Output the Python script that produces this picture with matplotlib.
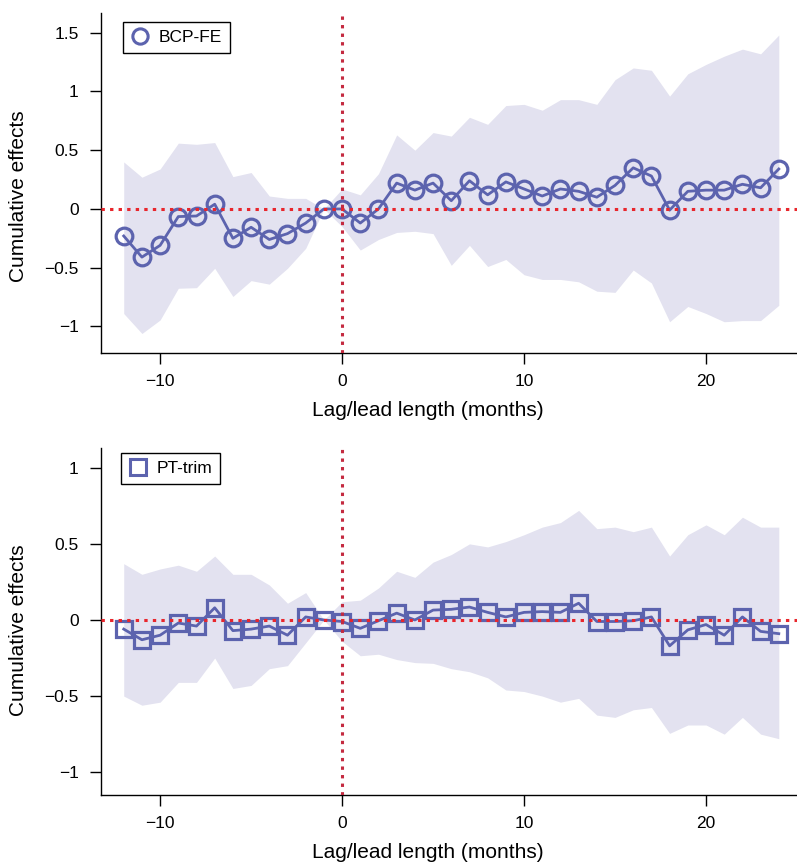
import matplotlib
matplotlib.use('Agg')
import matplotlib.pyplot as plt
from matplotlib.ticker import FuncFormatter
import numpy as np

plt.rcParams['font.family'] = ['Liberation Sans', 'DejaVu Sans']

lags = np.arange(-12, 25)

# top panel: BCP-FE
bcp_effect = [-0.23, -0.41, -0.31, -0.065, -0.06, 0.04, -0.25, -0.156, -0.26, -0.21, -0.12, 0.0,
              0.0, -0.12, 0.0, 0.22, 0.16, 0.22, 0.07, 0.24, 0.12, 0.23, 0.17, 0.11, 0.17, 0.15,
              0.10, 0.20, 0.35, 0.28, -0.01, 0.15, 0.16, 0.16, 0.21, 0.18, 0.34]
bcp_upper = [0.40, 0.27, 0.34, 0.56, 0.55, 0.565, 0.275, 0.31, 0.11, 0.09, 0.09, 0.0,
             0.17, 0.12, 0.30, 0.63, 0.50, 0.65, 0.62, 0.78, 0.72, 0.88, 0.89, 0.84, 0.93, 0.93,
             0.89, 1.10, 1.20, 1.18, 0.96, 1.15, 1.23, 1.30, 1.36, 1.32, 1.48]
bcp_lower = [-0.89, -1.06, -0.945, -0.675, -0.67, -0.505, -0.745, -0.61, -0.64, -0.505, -0.335, 0.0,
             -0.15, -0.35, -0.26, -0.20, -0.19, -0.21, -0.48, -0.31, -0.49, -0.43, -0.56, -0.60, -0.60,
             -0.62, -0.70, -0.71, -0.52, -0.63, -0.96, -0.83, -0.89, -0.96, -0.95, -0.95, -0.82]

# bottom panel: PT-trim
pt_effect = [-0.06, -0.13, -0.10, -0.02, -0.04, 0.08, -0.07, -0.06, -0.04, -0.10, 0.02, 0.0,
             -0.01, -0.055, -0.005, 0.045, 0.0, 0.065, 0.07, 0.085, 0.05, 0.02, 0.05, 0.055, 0.05,
             0.11, -0.01, -0.01, -0.005, 0.02, -0.17, -0.065, -0.03, -0.10, 0.02, -0.075, -0.09]
pt_upper = [0.37, 0.30, 0.335, 0.36, 0.32, 0.42, 0.30, 0.30, 0.23, 0.11, 0.18, 0.0,
            0.12, 0.13, 0.21, 0.32, 0.28, 0.38, 0.43, 0.50, 0.48, 0.515, 0.56, 0.61, 0.64,
            0.72, 0.60, 0.61, 0.58, 0.61, 0.42, 0.56, 0.625, 0.56, 0.675, 0.61, 0.61]
pt_lower = [-0.50, -0.56, -0.54, -0.41, -0.41, -0.25, -0.45, -0.43, -0.32, -0.30, -0.15, 0.0,
            -0.14, -0.235, -0.225, -0.26, -0.28, -0.285, -0.32, -0.34, -0.38, -0.46, -0.47, -0.50,
            -0.54, -0.515, -0.625, -0.64, -0.59, -0.575, -0.745, -0.69, -0.69, -0.75, -0.64, -0.75, -0.78]

line_color = '#5c63ae'
band_color = '#e3e2f0'


def fmt(v, pos):
    return f'{v:g}'.replace('-', '\u2212')


def draw_panel(ax, effect, lower, upper, marker, label, ylim, yticks, legend_anchor, ylab_y):
    ax.fill_between(lags, lower, upper, color=band_color, lw=0, zorder=1)
    ax.plot(lags, effect, color=line_color, lw=2.0, marker=marker, markersize=12,
            markerfacecolor='none', markeredgewidth=2.3, zorder=3)
    ax.axhline(0, color='#e8262c', lw=2.2, linestyle=(0, (1.1, 1.7)), zorder=4)
    ax.axvline(0, color='#c42a40', lw=2.2, linestyle=(0, (1.1, 1.7)), zorder=4)
    h = plt.Line2D([], [], color=line_color, marker=marker, linestyle='none', markersize=11,
                   markerfacecolor='none', markeredgewidth=2.2)
    leg = ax.legend([h], [label], loc='upper left', bbox_to_anchor=legend_anchor,
                    borderaxespad=0, fancybox=False, edgecolor='black', fontsize=12.5,
                    handlelength=1.0, handletextpad=0.6, borderpad=0.45, framealpha=1)
    leg.get_frame().set_linewidth(1.0)
    ax.set_xlim(-13.25, 25)
    ax.set_ylim(*ylim)
    ax.set_yticks(yticks)
    ax.set_xticks([-10, 0, 10, 20])
    ax.yaxis.set_major_formatter(FuncFormatter(fmt))
    ax.xaxis.set_major_formatter(FuncFormatter(fmt))
    for s in ['top', 'right']:
        ax.spines[s].set_visible(False)
    for s in ['left', 'bottom']:
        ax.spines[s].set_linewidth(1.0)
    ax.tick_params(direction='out', length=8, width=1, labelsize=12.5)
    ax.tick_params(axis='y', pad=8)
    ax.tick_params(axis='x', pad=7)
    ax.set_xlabel('Lag/lead length (months)', fontsize=15, labelpad=9)
    ax.set_ylabel('Cumulative effects', fontsize=15, labelpad=12)
    ax.xaxis.label.set_x(0.47)
    ax.yaxis.label.set_y(ylab_y)


fig = plt.figure(figsize=(7.97, 8.65), dpi=100)
ax1 = fig.add_axes([0.1267, 0.5919, 0.8733, 0.3934])
ax2 = fig.add_axes([0.1267, 0.0809, 0.8733, 0.4012])

draw_panel(ax1, bcp_effect, bcp_lower, bcp_upper, 'o', 'BCP-FE', (-1.226, 1.67),
           [-1, -0.5, 0, 0.5, 1, 1.5], (0.032, 0.973), 0.46)
draw_panel(ax2, pt_effect, pt_lower, pt_upper, 's', 'PT-trim', (-1.15, 1.13),
           [-1, -0.5, 0, 0.5, 1], (0.029, 0.985), 0.475)

fig.savefig('out.png', dpi=100)
